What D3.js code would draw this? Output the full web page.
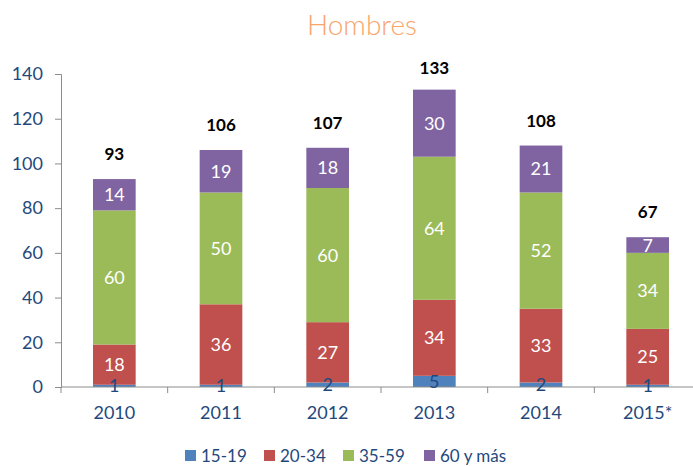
<!DOCTYPE html>
<html>
<head>
<meta charset="utf-8">
<script src="https://cdn.jsdelivr.net/npm/d3@7"></script>
<style>
  body { margin: 0; background: #fff; }
  text { font-family: Lato, "Open Sans", sans-serif; }
</style>
</head>
<body>
<div id="chart"></div>
<script>
// data
var years = ["2010", "2011", "2012", "2013", "2014", "2015*"]
var groups = ["15-19", "20-34", "35-59", "60 y más"]
var v1519 = [1, 1, 2, 5, 2, 1]
var v2034 = [18, 36, 27, 34, 33, 25]
var v3559 = [60, 50, 60, 64, 52, 34]
var v60 = [14, 19, 18, 30, 21, 7]
var totals = [93, 106, 107, 133, 108, 67]
var yTicks = [0, 20, 40, 60, 80, 100, 120, 140]

var colors = ["#4f81bd", "#c0504d", "#9bbb59", "#8064a2"]
var labelColors = ["#1f497d", "#fff", "#fff", "#fff"]
var axisText = "#1f497d"

var width = 693
var height = 466

var svg = d3.select("#chart")
  .append("svg")
    .attr("width", width)
    .attr("height", height)

// title
svg.append("text")
  .attr("x", 362)
  .attr("y", 35)
  .attr("text-anchor", "middle")
  .style("font-size", "28px")
  .style("font-weight", 300)
  .style("fill", "#f9a46b")
  .text("Hombres")

var x = d3.scaleBand()
  .domain(years)
  .range([61, 701])
  .paddingInner(0.6)
  .paddingOuter(0.3)

var y = d3.scaleLinear()
  .domain([0, 140])
  .range([387, 74])

// stack the series
var table = years.map((yr, i) => ({
  year: yr,
  "15-19": v1519[i],
  "20-34": v2034[i],
  "35-59": v3559[i],
  "60 y más": v60[i]
}))
var series = d3.stack().keys(groups)(table)

var layers = svg.append("g")
  .selectAll("g")
  .data(series)
  .enter().append("g")
    .style("fill", (d, i) => colors[i])

layers.selectAll("rect")
  .data(d => d)
  .enter().append("rect")
    .attr("x", d => x(d.data.year))
    .attr("y", d => y(d[1]))
    .attr("width", x.bandwidth())
    .attr("height", d => y(d[0]) - y(d[1]))

// y axis
var yAxis = svg.append("g")
  .attr("transform", "translate(61,0)")
  .call(d3.axisLeft(y).tickValues(yTicks).tickSize(6).tickPadding(12))
yAxis.select(".domain").attr("stroke", "#8c8c8c")
yAxis.selectAll("line").attr("stroke", "#8c8c8c")
yAxis.selectAll("text")
  .style("font-size", "18px")
  .style("fill", axisText)

// x axis line + ticks between categories
svg.append("line")
  .attr("x1", 61).attr("x2", 701)
  .attr("y1", y(0)).attr("y2", y(0))
  .attr("stroke", "#8c8c8c")

var bounds = years.map(yr => x(yr) - x.step() * 0.3)
bounds.push(x(years[years.length - 1]) + x.bandwidth() + x.step() * 0.3)
svg.append("g")
  .selectAll("line")
  .data(bounds)
  .enter().append("line")
    .attr("x1", d => d).attr("x2", d => d)
    .attr("y1", y(0)).attr("y2", y(0) + 6)
    .attr("stroke", "#8c8c8c")

svg.append("g")
  .selectAll("text")
  .data(years)
  .enter().append("text")
    .attr("x", d => x(d) + x.bandwidth() / 2)
    .attr("y", 419)
    .attr("text-anchor", "middle")
    .style("font-size", "18px")
    .style("fill", axisText)
    .text(d => d)

// segment labels (drawn above the axis line)
var segLabels = svg.append("g")
series.forEach(function(s, si) {
  segLabels.append("g")
    .selectAll("text")
    .data(s)
    .enter().append("text")
      .attr("x", d => x(d.data.year) + x.bandwidth() / 2)
      .attr("y", d => y((d[0] + d[1]) / 2))
      .attr("dy", "0.36em")
      .attr("text-anchor", "middle")
      .style("font-size", "18px")
      .style("fill", labelColors[si])
      .text(d => d[1] - d[0])
})

// totals (kept inside the plot top)
svg.append("g")
  .selectAll("text")
  .data(totals)
  .enter().append("text")
    .attr("x", (d, i) => x(years[i]) + x.bandwidth() / 2)
    .attr("y", d => Math.max(y(d) - 19, y(140)))
    .attr("text-anchor", "middle")
    .style("font-size", "17px")
    .style("font-weight", "bold")
    .style("fill", "#000")
    .text(d => d)

// legend
var legendX = [185, 264, 343, 424]
var legend = svg.append("g")
  .selectAll("g")
  .data(groups)
  .enter().append("g")
    .attr("transform", (d, i) => "translate(" + legendX[i] + ",450)")
legend.append("rect")
  .attr("width", 11)
  .attr("height", 11)
  .style("fill", (d, i) => colors[i])
legend.append("text")
  .attr("x", 16)
  .attr("y", 12)
  .style("font-size", "17px")
  .style("fill", axisText)
  .text(d => d)
</script>
</body>
</html>
